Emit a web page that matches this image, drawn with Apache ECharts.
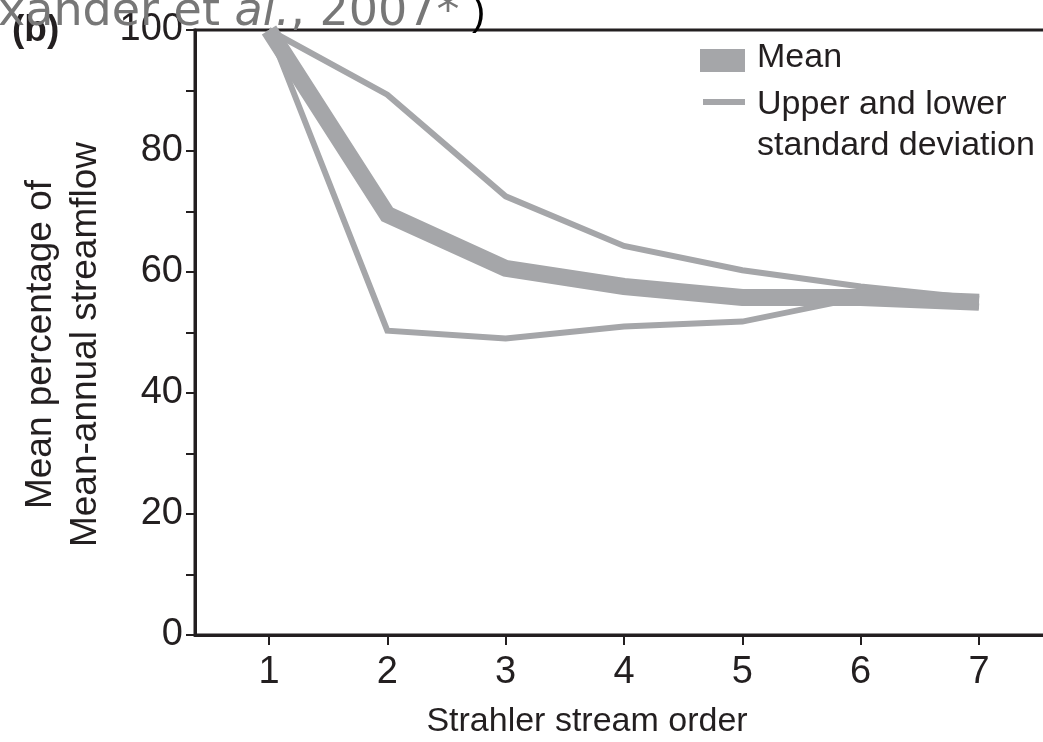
<!DOCTYPE html>
<html>
<head>
<meta charset="utf-8">
<style>
  html, body { margin: 0; padding: 0; background: #fff; }
  #main { width: 1043px; height: 742px; }
</style>
<script src="https://cdn.jsdelivr.net/npm/echarts@6/dist/echarts.min.js"></script>
</head>
<body>
<div id="main"></div>
<script>
// Strahler stream order vs mean percentage of mean-annual streamflow
const orders = [1, 2, 3, 4, 5, 6, 7];
const meanPct = [100, 69.5, 60.6, 57.6, 55.8, 55.8, 55.0];
const upperSd = [100, 89.3, 72.5, 64.3, 60.3, 57.6, 55.6];
const lowerSd = [100, 50.3, 49.0, 51.0, 51.8, 55.8, 54.3];
const yTicks = [0, 10, 20, 30, 40, 50, 60, 70, 80, 90, 100];
const yLabels = [0, 20, 40, 60, 80, 100];

const grey = '#a5a6a9';
const ink = '#231f20';
const font = '"Liberation Sans", Arial, sans-serif';

const pairs = (ys) => orders.map((x, i) => [x, ys[i]]);

const chartDom = document.getElementById('main');
const myChart = echarts.init(chartDom);

const option = {
  animation: false,
  backgroundColor: '#fff',
  grid: {
    left: 195,
    top: 30,
    width: 858,
    height: 605,
    containLabel: false,
    outerBoundsMode: 'none',
    show: true,
    borderColor: ink,
    borderWidth: 3
  },
  xAxis: {
    type: 'value',
    min: 0.375,
    max: 7.625,
    name: 'Strahler stream order',
    nameLocation: 'middle',
    nameGap: 70,
    nameTextStyle: { fontFamily: font, fontSize: 34, color: ink, padding: [0, 74, 0, 0] },
    axisLine: { show: true, lineStyle: { color: ink, width: 3 } },
    axisTick: { show: true, length: 10, lineStyle: { color: ink, width: 2 }, customValues: orders },
    axisLabel: { fontFamily: font, fontSize: 38, color: ink, margin: 19, customValues: orders },
    splitLine: { show: false }
  },
  yAxis: {
    type: 'value',
    min: 0,
    max: 100,
    interval: 10,
    name: 'Mean percentage of\nMean-annual streamflow',
    nameLocation: 'middle',
    nameRotate: 90,
    nameGap: 84,
    nameTextStyle: { fontFamily: font, fontSize: 37, color: ink, lineHeight: 45, padding: [0, 24, 0, 0] },
    axisLine: { show: true, lineStyle: { color: ink, width: 3 } },
    axisTick: { show: true, length: 9, lineStyle: { color: ink, width: 2 }, customValues: yTicks },
    axisLabel: { fontFamily: font, fontSize: 38, color: ink, margin: 12, customValues: yLabels },
    splitLine: { show: false }
  },
  graphic: [
    // citation fragment cut off at the top
    {
      type: 'text', left: -2, top: -10, z: 100,
      style: {
        text: '{n|xander et }{i|al.}{n|, 2007*}',
        rich: {
          n: { fontFamily: '"DejaVu Sans", sans-serif', fontSize: 46, fill: '#777' },
          i: { fontFamily: '"DejaVu Sans", sans-serif', fontSize: 46, fontStyle: 'italic', fill: '#777' }
        }
      }
    },
    {
      type: 'text', left: 472, top: -6, z: 99,
      style: { text: ')', fontFamily: font, fontSize: 40, fill: '#000' }
    },
    {
      type: 'text', left: 12, top: 12, z: 98,
      style: { text: '(b)', fontFamily: font, fontSize: 37, fontWeight: 'bold', fill: ink }
    },
    // legend
    { type: 'rect', shape: { x: 700, y: 49, width: 45, height: 23 }, style: { fill: grey } },
    { type: 'line', shape: { x1: 703, y1: 102, x2: 745, y2: 102 }, style: { stroke: grey, lineWidth: 6 } },
    {
      type: 'text', left: 757, top: 41,
      style: { text: 'Mean', fontFamily: font, fontSize: 34, fill: ink }
    },
    {
      type: 'text', left: 757, top: 84,
      style: { text: 'Upper and lower\nstandard deviation', fontFamily: font, fontSize: 34, lineHeight: 41, fill: ink }
    }
  ],
  series: [
    {
      name: 'Upper standard deviation',
      type: 'line',
      data: pairs(upperSd),
      symbol: 'none',
      clip: false,
      z: 3,
      lineStyle: { color: grey, width: 6, join: 'miter' }
    },
    {
      name: 'Lower standard deviation',
      type: 'line',
      data: pairs(lowerSd),
      symbol: 'none',
      clip: false,
      z: 3,
      lineStyle: { color: grey, width: 6, join: 'miter' }
    },
    {
      name: 'Mean',
      type: 'line',
      data: pairs(meanPct),
      symbol: 'none',
      clip: false,
      z: 4,
      lineStyle: { color: grey, width: 17, join: 'miter' }
    }
  ]
};

myChart.setOption(option);
</script>
</body>
</html>
